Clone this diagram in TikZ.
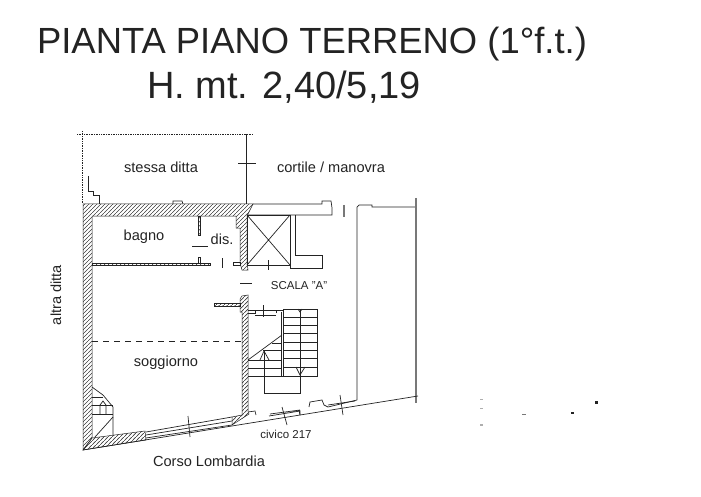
\documentclass[tikz,border=0pt]{standalone}
\usepackage{fontspec}
\setmainfont{Liberation Sans}
\usetikzlibrary{patterns}
\definecolor{InkClr}{RGB}{35,35,35}
\definecolor{PaleClr}{RGB}{120,120,120}
\definecolor{HatchClr}{RGB}{60,60,60}
\pgfdeclarepatternformonly{wallhatch}{\pgfpointorigin}{\pgfqpoint{4pt}{4pt}}{\pgfqpoint{4pt}{4pt}}{%
  \pgfsetlinewidth{0.8pt}
  \pgfpathmoveto{\pgfqpoint{-1pt}{-1pt}}
  \pgfpathlineto{\pgfqpoint{5pt}{5pt}}
  \pgfusepath{stroke}}
\tikzset{
  wall/.style={draw=InkClr,line width=0.5pt,pattern=wallhatch,pattern color=HatchClr},
  thin line/.style={draw=InkClr,line width=0.7pt},
  pale line/.style={draw=PaleClr,line width=1.1pt},
  room label/.style={text=InkClr,font=\fontsize{14.6}{16}\selectfont,inner sep=0pt},
  small label/.style={text=InkClr,font=\fontsize{11.5}{14}\selectfont,inner sep=0pt},
  title label/.style={text=InkClr,font=\fontsize{36.4}{40}\selectfont,inner sep=0pt},
}

\begin{document}
\begin{tikzpicture}[x=1pt,y=-1pt]
\useasboundingbox (0,0) rectangle (701,497);

% titles
\node[title label] (TitleOne) at (312,44) {PIANTA PIANO TERRENO (1°f.t.)};
\node[title label,font=\fontsize{38}{42}\selectfont] (TitleTwo) at (284,87) {H. mt. 2,40/5,19};

% masonry
\draw[wall] (83,450) -- (83,204) -- (253,204) -- (247,216) -- (247,263) -- (248,270) -- (242,270)
  -- (240,263) -- (240,228) -- (236,228) -- (236,216) -- (92,216) -- (92,438) -- cycle;
\draw[wall] (83,450) -- (92,438) -- (145,431) -- (146,440) -- cycle;
\draw[wall] (242,296) -- (248,295) -- (248,412) -- (249,414) -- (232,425) -- (232,417) -- (242,415)
  -- (242,312) -- (240,312) -- (240,299) -- cycle;
\draw[wall] (214,303) rectangle (240,306);
\draw[wall] (92,263) rectangle (210,265.5);
\draw[wall] (198,216) rectangle (200,235);
\draw[thin line] (198,263) -- (198,257) -- (200,257) -- (200,263);
\draw[thin line] (233,262) rectangle (240,265);

% free ticks and boundaries
\draw[thin line,densely dotted] (77,134) -- (253,134);
\draw[thin line,densely dotted] (82,131) -- (82,204);
\draw[thin line] (246.5,134) -- (246.5,204);
\draw[thin line] (238,163) -- (256,163);
\draw[thin line] (88,176) -- (88,191) -- (93,191) -- (93,195) -- (99,195) -- (99,204);
\draw[thin line] (173,204) -- (173,201) -- (182,201) -- (183,204);
\draw[thin line] (192,246) -- (208,246);
\draw[thin line] (222,258) -- (222,268);
\draw[thin line] (240,283) -- (252,283);
\draw[thin line,dash pattern=on 6pt off 5pt] (92,341) -- (242,341);

% lift and landing
\draw[thin line] (253,204) -- (322,204) -- (322,201) -- (331,201) -- (332,208) -- (332,215) -- (247,215);
\draw[thin line] (247,215) rectangle (290,265);
\draw[thin line] (247,215) -- (290,265) (290,215) -- (247,265);
\draw[thin line] (295,215) -- (295,255) -- (322,255) -- (322,268) -- (290,268) -- (290,265);
\draw[thin line] (268,260) -- (268,270);
\draw[pale line] (344,205) -- (344,217);

% courtyard side
\draw[thin line] (357,400) -- (357,207) -- (359,205) -- (372,205) -- (372,207) -- (416,207);
\draw[pale line] (416,198) -- (416,403);

% street front
\draw[thin line] (83,450) -- (418,396);
\draw[thin line] (146,432) -- (232,417) (146,438) -- (232,425) (146,435) -- (232,421);
\draw[thin line] (188,416) -- (190,437);
\draw[thin line] (248,412) -- (255,411) -- (256,415);
\draw[thin line] (269,416) -- (300,411) -- (300,415) (270,414) -- (300,410);
\draw[thin line] (282,407) -- (287,425);
\draw[thin line] (299,410) -- (300,415);
\draw[thin line] (309,407) -- (310,402) -- (322,400) -- (324,405) -- (328,407) -- (357,400);
\draw[thin line] (328,405) -- (355,401);
\draw[thin line] (340,395) -- (343,415);

% corner stair
\draw[thin line] (92,387) -- (103,395) -- (113,407) -- (113,435);
\draw[thin line] (92,397) -- (103,397) (92,405) -- (113,405) (92,414) -- (113,414);
\draw[thin line] (95,437) -- (113,417) (100,414) -- (100,405) -- (103,401) -- (106,405) -- (106,414);

% main stair
\draw[thin line] (283,309) rectangle (317,376);
\draw[thin line] (248,376) -- (283,376);
\draw[thin line] (281,312) -- (281,376);
\draw[thin line] (248,360) -- (282,335);
\foreach \yy in {317,325,333,342,350,358,367}
  \draw[thin line] (283,\yy) -- (317,\yy);
\draw[thin line] (248,360) -- (281,360) (248,368) -- (281,368);
\draw[thin line] (263,350) -- (281,350) (272,343) -- (281,343);
\draw[thin line] (300,309) -- (300,393) -- (264,393) -- (264,350);
\draw[thin line] (260,360) -- (264,351) -- (269,360);
\draw[thin line] (296,367) -- (300,375) -- (305,367);
\draw[thin line] (298,309) -- (300,312) -- (302,309);
\draw[thin line] (248,310) -- (255,310) -- (255,313) -- (248,313);
\draw[thin line] (276,313) -- (276,310) -- (283,310);
\draw[thin line] (255,310) -- (276,310) (255,315) -- (276,315);
\draw[thin line] (263,305) -- (263,317);

% scanner specks
\fill[InkClr] (571,412) rectangle (574,414);
\fill[InkClr] (595,401) rectangle (598,404);
\fill[PaleClr] (522,414) rectangle (526,415);
\fill[PaleClr!60] (480,399) rectangle (483,400);
\fill[PaleClr!60] (480,408) rectangle (483,409);
\fill[PaleClr!60] (480,424) rectangle (483,426);

% labels
\node[room label] (StessaDitta) at (161,167) {stessa ditta};
\node[room label] (Cortile) at (331,167) {cortile / manovra};
\node[room label] (Bagno) at (144,237) {bagno};
\node[room label] (Dis) at (222,239) {dis.};
\node[small label] (ScalaA) at (299,286) {SCALA "A"};
\node[room label,rotate=90] (AltraDitta) at (56,295) {altra ditta};
\node[room label] (Soggiorno) at (166,363) {soggiorno};
\node[small label] (Civico) at (286,434) {civico 217};
\node[room label] (Corso) at (209,461) {Corso Lombardia};

\end{tikzpicture}
\end{document}
